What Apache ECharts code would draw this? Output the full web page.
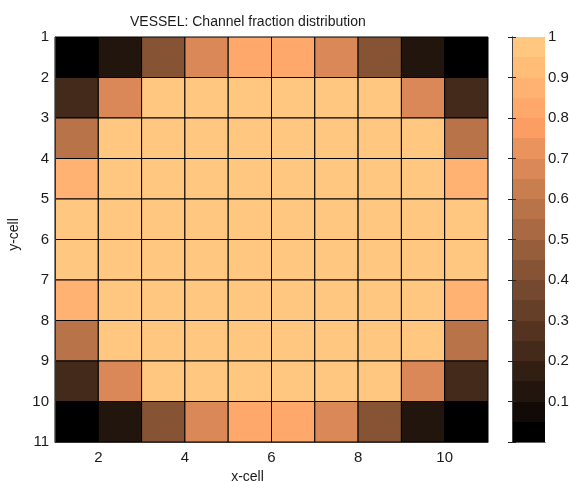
<!DOCTYPE html>
<html>
<head>
<meta charset="utf-8">
<script src="https://cdn.jsdelivr.net/npm/echarts@6/dist/echarts.min.js"></script>
<style>
html,body{margin:0;padding:0;background:#fff;}
#chart{width:569px;height:482px;}
</style>
</head>
<body>
<div id="chart"></div>
<script>
// ---- data ----
const xCells = [1, 2, 3, 4, 5, 6, 7, 8, 9, 10];
const yCells = [1, 2, 3, 4, 5, 6, 7, 8, 9, 10];
// channel fraction, row by row (y-cell 1 at top)
const fraction = [
  [0.00, 0.12, 0.42, 0.67, 0.82, 0.82, 0.67, 0.42, 0.12, 0.00],
  [0.22, 0.67, 1.00, 1.00, 1.00, 1.00, 1.00, 1.00, 0.67, 0.22],
  [0.57, 1.00, 1.00, 1.00, 1.00, 1.00, 1.00, 1.00, 1.00, 0.57],
  [0.87, 1.00, 1.00, 1.00, 1.00, 1.00, 1.00, 1.00, 1.00, 0.87],
  [1.00, 1.00, 1.00, 1.00, 1.00, 1.00, 1.00, 1.00, 1.00, 1.00],
  [1.00, 1.00, 1.00, 1.00, 1.00, 1.00, 1.00, 1.00, 1.00, 1.00],
  [0.87, 1.00, 1.00, 1.00, 1.00, 1.00, 1.00, 1.00, 1.00, 0.87],
  [0.57, 1.00, 1.00, 1.00, 1.00, 1.00, 1.00, 1.00, 1.00, 0.57],
  [0.22, 0.67, 1.00, 1.00, 1.00, 1.00, 1.00, 1.00, 0.67, 0.22],
  [0.00, 0.12, 0.42, 0.67, 0.82, 0.82, 0.67, 0.42, 0.12, 0.00]
];
const xTickLabels = [2, 4, 6, 8, 10];
const yTickLabels = [1, 2, 3, 4, 5, 6, 7, 8, 9, 10, 11];
const colorbarTicks = [0.1, 0.2, 0.3, 0.4, 0.5, 0.6, 0.7, 0.8, 0.9, 1];
const nLevels = 20;

// ---- copper colormap (discrete, nLevels) ----
function copper(t) {
  const r = Math.min(1, 1.25 * t), g = 0.7812 * t, b = 0.4975 * t;
  return 'rgb(' + Math.round(r * 255) + ',' + Math.round(g * 255) + ',' + Math.round(b * 255) + ')';
}
function levelColor(v) {
  let idx = Math.floor(v * nLevels);
  if (idx >= nLevels) idx = nLevels - 1;
  if (idx < 0) idx = 0;
  return copper(idx / (nLevels - 1));
}

const cellData = [];
yCells.forEach((y, r) => xCells.forEach((x, c) => cellData.push([x, y, fraction[r][c]])));
const bandData = [];
for (let k = 0; k < nLevels; k++) bandData.push([k / nLevels, (k + 1) / nLevels, (k + 0.5) / nLevels]);

const FONT = "'Liberation Sans', Arial, sans-serif";
const TXT = '#1a1a1a';
const FS = 15;
const chart = echarts.init(document.getElementById('chart'), null, {renderer: 'canvas'});
chart.setOption({
  animation: false,
  backgroundColor: '#ffffff',
  title: {
    text: 'VESSEL: Channel fraction distribution',
    left: 125, top: 10,
    textStyle: {fontFamily: FONT, fontSize: 14, fontWeight: 'normal', color: TXT}
  },
  grid: [
    {left: 55, top: 37, width: 433, height: 405, containLabel: false, outerBoundsMode: 'none'},
    {left: 512, top: 37, width: 33, height: 405, containLabel: false, outerBoundsMode: 'none'}
  ],
  xAxis: [
    {
      type: 'value', gridIndex: 0, min: 1, max: 11, interval: 1, z: 5,
      name: 'x-cell', nameLocation: 'middle', nameGap: 21,
      nameTextStyle: {fontFamily: FONT, fontSize: 14, color: TXT, padding: [0, 48, 0, 0]},
      axisLine: {show: true, lineStyle: {color: '#333', width: 1}},
      axisTick: {show: false},
      splitLine: {show: false},
      axisLabel: {
        fontFamily: FONT, fontSize: FS, color: TXT, margin: 8,
        formatter: v => (xTickLabels.indexOf(v) >= 0 ? String(v) : '')
      }
    },
    {
      type: 'value', gridIndex: 1, min: 0, max: 1, z: 5,
      axisLine: {show: true, lineStyle: {color: '#444', width: 1}},
      axisTick: {show: false}, axisLabel: {show: false}, splitLine: {show: false}
    },
    {
      type: 'value', gridIndex: 1, min: 0, max: 1, position: 'top', z: 5,
      axisLine: {show: true, lineStyle: {color: '#666', width: 1}},
      axisTick: {show: false}, axisLabel: {show: false}, splitLine: {show: false}
    }
  ],
  yAxis: [
    {
      type: 'value', gridIndex: 0, min: 1, max: 11, interval: 1, inverse: true, z: 5,
      name: 'y-cell', nameLocation: 'middle', nameGap: 34, nameRotate: 90,
      nameTextStyle: {fontFamily: FONT, fontSize: 14, color: TXT, padding: [0, 0, 0, 10]},
      axisLine: {show: true, lineStyle: {color: '#333', width: 1}},
      axisTick: {show: false},
      splitLine: {show: false},
      axisLabel: {
        fontFamily: FONT, fontSize: FS, color: TXT, margin: 6,
        formatter: v => (yTickLabels.indexOf(v) >= 0 ? String(v) : '')
      }
    },
    {
      type: 'value', gridIndex: 1, min: 0, max: 1, interval: 0.1, position: 'left', z: 5,
      axisLine: {show: true, lineStyle: {color: '#444', width: 1}},
      axisTick: {show: true, inside: true, length: 4, lineStyle: {color: '#222'}},
      axisLabel: {show: false}, splitLine: {show: false}, splitArea: {show: false}
    },
    {
      type: 'value', gridIndex: 1, min: 0, max: 1, interval: 0.1, position: 'right', z: 5,
      axisLine: {show: true, lineStyle: {color: '#444', width: 1}},
      axisTick: {show: true, inside: true, length: 4, lineStyle: {color: '#222'}},
      splitLine: {show: false}, splitArea: {show: false},
      axisLabel: {
        fontFamily: FONT, fontSize: FS, color: TXT, margin: 3,
        formatter: v => {
          const r = Math.round(v * 10) / 10;
          return colorbarTicks.some(t => Math.abs(t - r) < 1e-9) ? String(r) : '';
        }
      }
    }
  ],
  series: [
    {
      type: 'custom', xAxisIndex: 0, yAxisIndex: 0, data: cellData,
      renderItem: function (params, api) {
        const x = api.value(0), y = api.value(1), v = api.value(2);
        const p0 = api.coord([x, y]);
        const p1 = api.coord([x + 1, y + 1]);
        return {
          type: 'rect',
          shape: {x: p0[0], y: p0[1], width: p1[0] - p0[0], height: p1[1] - p0[1]},
          style: {fill: levelColor(v), stroke: '#000', lineWidth: 1}
        };
      }
    },
    {
      type: 'custom', xAxisIndex: 1, yAxisIndex: 1, data: bandData,
      renderItem: function (params, api) {
        const lo = api.value(0), hi = api.value(1), mid = api.value(2);
        const p0 = api.coord([0, hi]);
        const p1 = api.coord([1, lo]);
        const x0 = Math.round(p0[0]), x1 = Math.round(p1[0]);
        const y0 = Math.round(p0[1]), y1 = Math.round(p1[1]);
        return {
          type: 'rect',
          shape: {x: x0, y: y0, width: x1 - x0, height: y1 - y0},
          style: {fill: levelColor(mid), lineWidth: 0}
        };
      }
    }
  ]
});
</script>
</body>
</html>
